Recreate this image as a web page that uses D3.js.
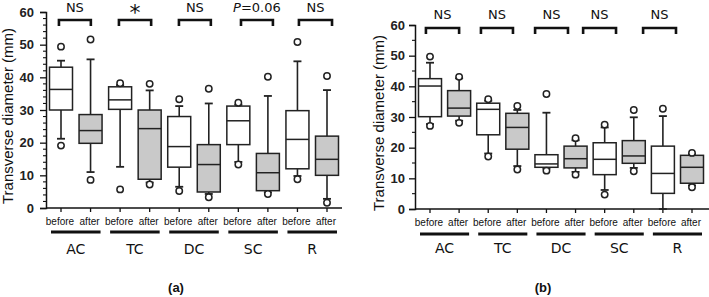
<!DOCTYPE html>
<html>
<head>
<meta charset="utf-8">
<script src="https://cdn.jsdelivr.net/npm/d3@7"></script>
<style>
  body { margin: 0; background: #fff; }
  svg { display: block; }
</style>
</head>
<body>
<div id="chart"></div>
<script>
// Sites and phases along the x axis
const GROUPS = ['AC', 'TC', 'DC', 'SC', 'R'];
const PHASES = ['before', 'after'];
const Y_TICKS = [0, 10, 20, 30, 40, 50, 60];

// each box: [low outlier, low whisker, q1, median, q3, high whisker, high outlier]
const boxesA = [
  [19.1, 21.2, 30.0, 36.3, 43.1, 45.1, 49.4],
  [8.6, 11.0, 19.8, 23.7, 28.6, 45.5, 51.6],
  [5.7, 12.6, 30.2, 33.1, 37.1, 37.6, 38.2],
  [7.2, 7.8, 8.8, 24.3, 30.0, 36.0, 38.0],
  [5.2, 6.5, 12.5, 18.8, 28.0, 31.2, 33.3],
  [3.3, 4.3, 4.9, 13.3, 19.4, 32.0, 36.5],
  [13.3, 14.1, 19.4, 26.7, 31.2, 31.6, 32.2],
  [4.3, 4.8, 5.3, 10.8, 16.7, 34.3, 40.2],
  [8.8, 9.8, 12.0, 21.0, 29.8, 44.9, 50.8],
  [1.6, 2.8, 10.0, 14.9, 22.0, 36.1, 40.4]
];
const boxesB = [
  [27.1, 27.7, 30.1, 40.1, 42.5, 47.7, 49.7],
  [28.1, 28.8, 30.3, 32.9, 38.6, 42.6, 43.1],
  [17.1, 18.1, 24.2, 32.5, 34.5, 35.3, 35.8],
  [12.9, 14.0, 19.5, 26.6, 31.2, 32.3, 33.6],
  [12.5, 13.2, 13.6, 14.7, 17.7, 31.4, 37.5],
  [11.2, 12.1, 13.4, 16.4, 20.5, 22.4, 23.1],
  [4.7, 6.2, 11.2, 16.2, 21.6, 26.6, 27.5],
  [12.3, 13.4, 14.9, 17.3, 22.3, 29.9, 32.3],
  [null, 0, 5.1, 11.6, 20.5, 30.3, 32.7],
  [7.1, 7.7, 8.4, 13.6, 17.5, 18.0, 18.3]
];

// significance labels and bracket spans (in box-index units)
const sigA = ['NS', '*', 'NS', 'P=0.06', 'NS'];
const sigB = ['NS', 'NS', 'NS', 'NS', 'NS'];
const bracketsA = [[-0.07, 1.01], [1.96, 3.05], [3.99, 5.07], [6.09, 7.17], [8.05, 9.17]];
const bracketsB = [[-0.14, 1.0], [1.75, 2.85], [3.61, 4.74], [5.26, 6.39], [7.32, 8.45]];

const W = 709, H = 297;
const svg = d3.select('#chart').append('svg').attr('width', W).attr('height', H);

const NUM_FONT = '"Liberation Sans Narrow", "Liberation Sans", Arial, sans-serif';
const LBL_FONT = '"DejaVu Sans", Verdana, sans-serif';
const AX_FONT = '"Liberation Sans", Arial, sans-serif';

function drawPanel(opt) {
  const y = d3.scaleLinear().domain([0, 60]).range([opt.y0, opt.y60]);
  const x = d3.scaleLinear().domain([0, 9]).range([opt.xFirst, opt.xLast]);
  const g = svg.append('g');
  const boxW = 23;

  // y axis
  const yAxis = d3.axisLeft(y).tickValues(Y_TICKS).tickSize(6).tickPadding(opt.tickPad);
  const ya = g.append('g').attr('transform', `translate(${opt.axisX},0)`).call(yAxis);
  ya.select('.domain').attr('stroke', '#111').attr('stroke-width', 1.5);
  ya.selectAll('.tick line').attr('stroke', '#111').attr('stroke-width', 1.3);
  ya.selectAll('text')
    .attr('font-family', NUM_FONT).attr('font-weight', 'bold')
    .attr('font-size', '13px').attr('fill', '#222');

  g.append('g').attr('transform', `translate(${opt.axisX},0)`)
    .selectAll('line').data(d3.range(0, 61, opt.minorStep).filter((v) => v % 10 !== 0))
    .join('line')
    .attr('x1', -3).attr('x2', 0)
    .attr('y1', (d) => y(d)).attr('y2', (d) => y(d))
    .attr('stroke', '#111').attr('stroke-width', 1.1);

  // x axis line
  g.append('line')
    .attr('x1', opt.axisX).attr('x2', opt.axisEnd)
    .attr('y1', y(0)).attr('y2', y(0))
    .attr('stroke', '#111').attr('stroke-width', 1.5);
  g.selectAll('.xtick').data(d3.range(10)).join('line')
    .attr('x1', (d) => x(d)).attr('x2', (d) => x(d))
    .attr('y1', y(0)).attr('y2', y(0) + 4)
    .attr('stroke', '#111').attr('stroke-width', 1.3);

  // y title
  g.append('text')
    .attr('transform', `translate(${opt.titleX},${(opt.y0 + opt.y60) / 2 + 6}) rotate(-90)`)
    .attr('text-anchor', 'middle')
    .attr('font-family', AX_FONT).attr('font-size', '15px').attr('fill', '#111')
    .text('Transverse diameter (mm)');

  // boxes
  opt.boxes.forEach((b, i) => {
    const cx = x(i);
    const fill = i % 2 === 0 ? '#fff' : '#c9c9c9';
    const [lo, wl, q1, med, q3, wh, hi] = b;

    g.append('line')
      .attr('x1', cx).attr('x2', cx).attr('y1', y(q3)).attr('y2', y(wh))
      .attr('stroke', '#222').attr('stroke-width', 1.6);
    g.append('line')
      .attr('x1', cx).attr('x2', cx).attr('y1', y(q1)).attr('y2', y(wl))
      .attr('stroke', '#222').attr('stroke-width', 1.6);
    for (const v of [wl, wh]) {
      g.append('line')
        .attr('x1', cx - 4).attr('x2', cx + 4).attr('y1', y(v)).attr('y2', y(v))
        .attr('stroke', '#222').attr('stroke-width', 1.8);
    }
    g.append('rect')
      .attr('x', cx - boxW / 2).attr('width', boxW)
      .attr('y', y(q3)).attr('height', y(q1) - y(q3))
      .attr('fill', fill).attr('stroke', '#222').attr('stroke-width', 1.5);
    g.append('line')
      .attr('x1', cx - boxW / 2).attr('x2', cx + boxW / 2)
      .attr('y1', y(med)).attr('y2', y(med))
      .attr('stroke', '#222').attr('stroke-width', 1.5);
    for (const v of [lo, hi]) {
      if (v == null) continue;
      g.append('circle')
        .attr('cx', cx).attr('cy', y(v)).attr('r', 3.2)
        .attr('fill', '#fff').attr('stroke', '#222').attr('stroke-width', 1.5);
    }
  });

  // phase labels, group underlines, group names
  d3.range(10).forEach((i) => {
    g.append('text')
      .attr('x', x(i) - 1).attr('y', opt.phaseY)
      .attr('text-anchor', 'middle')
      .attr('font-family', AX_FONT).attr('font-size', '10px').attr('fill', '#111')
      .text(PHASES[i % 2]);
  });
  GROUPS.forEach((name, k) => {
    const a = x(2 * k), b = x(2 * k + 1);
    g.append('line')
      .attr('x1', a - 10).attr('x2', b + 10)
      .attr('y1', opt.lineY).attr('y2', opt.lineY)
      .attr('stroke', '#111').attr('stroke-width', 3);
    g.append('text')
      .attr('x', (a + b) / 2).attr('y', opt.groupY)
      .attr('text-anchor', 'middle')
      .attr('font-family', LBL_FONT).attr('font-size', '14px').attr('fill', '#111')
      .text(name);
  });

  // significance brackets
  opt.brackets.forEach((br, k) => {
    const x1 = x(br[0]), x2 = x(br[1]);
    g.append('path')
      .attr('d', `M${x1},${opt.brY + 6}V${opt.brY}H${x2}V${opt.brY + 6}`)
      .attr('fill', 'none').attr('stroke', '#111').attr('stroke-width', 2.6);
    const lab = opt.sig[k];
    const t = g.append('text')
      .attr('x', (x1 + x2) / 2)
      .attr('text-anchor', 'middle')
      .attr('font-family', LBL_FONT).attr('fill', '#111');
    if (lab === '*') {
      t.attr('y', opt.sigY + 8).attr('font-size', '22px').text('*');
    } else if (lab.startsWith('P')) {
      t.attr('y', opt.sigY).attr('font-size', '13px');
      t.append('tspan').attr('font-style', 'italic').text('P');
      t.append('tspan').text(lab.slice(1));
    } else {
      t.attr('y', opt.sigY).attr('font-size', '13px').text(lab);
    }
  });

  svg.append('text')
    .attr('x', opt.tagX).attr('y', 292)
    .attr('text-anchor', 'middle')
    .attr('font-family', AX_FONT).attr('font-weight', 'bold').attr('font-size', '13px')
    .attr('fill', '#111')
    .text(opt.tag);
}

drawPanel({
  boxes: boxesA, sig: sigA, brackets: bracketsA,
  y0: 208, y60: 12, axisX: 46, axisEnd: 342, xFirst: 61, xLast: 327,
  tickPad: 6, minorStep: 2, titleX: 13,
  phaseY: 225, lineY: 232, groupY: 254, brY: 20, sigY: 12,
  tag: '(a)', tagX: 176
});

drawPanel({
  boxes: boxesB, sig: sigB, brackets: bracketsB,
  y0: 209, y60: 25, axisX: 415, axisEnd: 709, xFirst: 430, xLast: 692,
  tickPad: 4, minorStep: 5, titleX: 384,
  phaseY: 226, lineY: 234, groupY: 253, brY: 28, sigY: 19,
  tag: '(b)', tagX: 543
});
</script>
</body>
</html>
